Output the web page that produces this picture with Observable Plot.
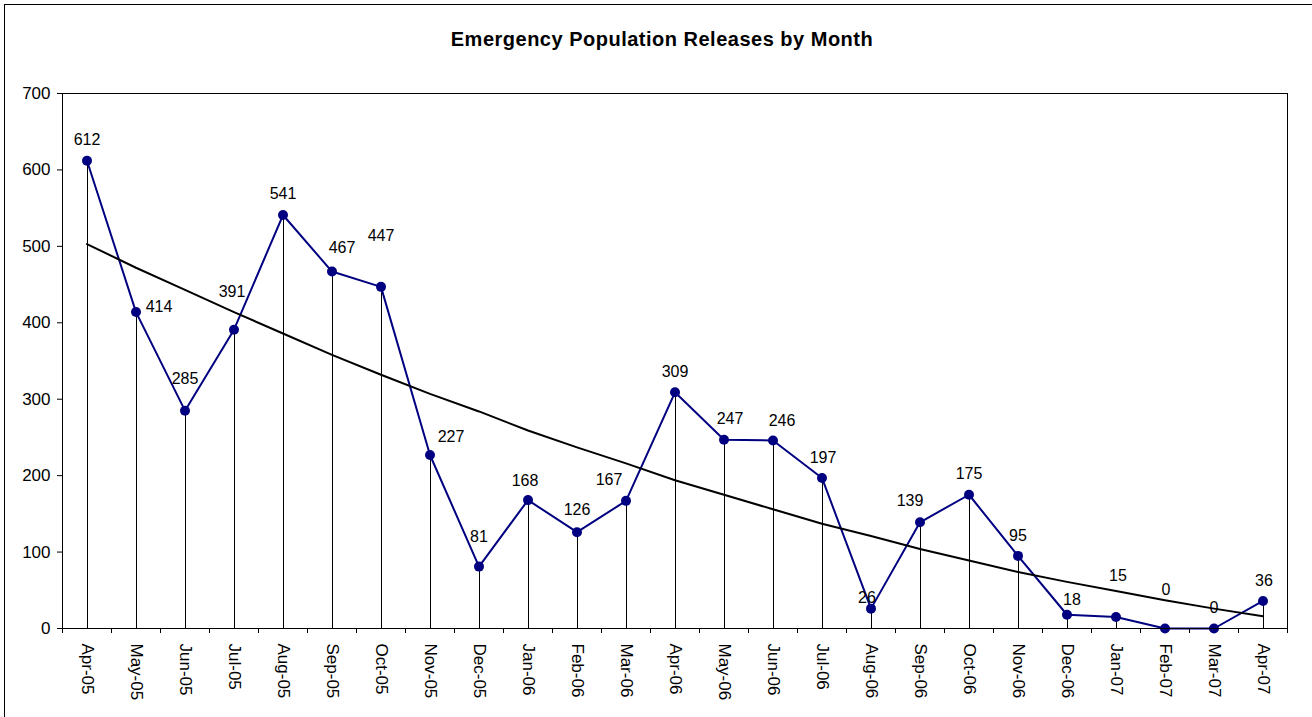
<!DOCTYPE html>
<html>
<head>
<meta charset="utf-8">
<script src="https://cdn.jsdelivr.net/npm/d3@7"></script>
<script src="https://cdn.jsdelivr.net/npm/@observablehq/plot@0.6"></script>
<style>
  html, body { margin: 0; padding: 0; overflow: hidden; background: #fff; width: 1312px; height: 717px; }
  #border { position: absolute; left: 4px; top: 4px; width: 1330px; height: 740px; border: 1px solid #000; box-sizing: border-box; }
  #title { position: absolute; left: 662px; top: 29px; transform: translateX(-50%); white-space: nowrap;
           font: bold 20px "Liberation Sans", Arial, sans-serif; line-height: 20px; letter-spacing: 0.5px; color: #000; }
  #chart { position: absolute; left: 0; top: 0; }
  #chart svg { font-family: "Liberation Sans", Arial, sans-serif; }
</style>
</head>
<body>
<div id="border"></div>
<div id="chart"></div>
<div id="title">Emergency Population Releases by Month</div>
<script>
const months = ["Apr-05","May-05","Jun-05","Jul-05","Aug-05","Sep-05","Oct-05","Nov-05","Dec-05",
  "Jan-06","Feb-06","Mar-06","Apr-06","May-06","Jun-06","Jul-06","Aug-06","Sep-06","Oct-06","Nov-06","Dec-06",
  "Jan-07","Feb-07","Mar-07","Apr-07"];
const releases = [612,414,285,391,541,467,447,227,81,168,126,167,309,247,246,197,26,139,175,95,18,15,0,0,36];
const trend = [503,472,443,414,386,358,332,307,284,259,237,216,194,175,156,137,121,104,89,74,61,49,37,26,16];
const yTicks = [0,100,200,300,400,500,600,700];

// label nudges (pixel offsets from each point), kept apart from the data
const labelDx = [0,23,0,-2,0,10,0,21,0,-3,0,-17,0,6,9,1,-4,-10,0,0,5,2,1,0,1];
const labelDy = [-21,-5,-32,-38,-21,-24,-51,-18,-30,-19,-22,-21,-20,-21,-20,-20,-11,-21,-21,-20,-15,-41,-39,-21,-20];

const data = months.map((m, i) => ({i, month: m, value: releases[i], trend: trend[i]}));
const boundaries = d3.range(months.length + 1).map(k => k - 0.5);

const labelMarks = data.map(d => Plot.text([d], {
  x: "i", y: "value", text: d => String(d.value),
  dx: labelDx[d.i], dy: labelDy[d.i],
  fontSize: 16, fill: "#000", style: "letter-spacing:0.5px"
}));

const chart = Plot.plot({
  width: 1312,
  height: 717,
  marginLeft: 62,
  marginRight: 25,
  marginTop: 93,
  marginBottom: 89,
  style: {background: "transparent", fontFamily: "Liberation Sans, Arial, sans-serif"},
  x: {type: "linear", domain: [-0.5, months.length - 0.5]},
  y: {domain: [0, 700]},
  marks: [
    Plot.ruleX(data, {x: "i", y1: 0, y2: "value", stroke: "#000", strokeWidth: 1, shapeRendering: "crispEdges"}),
    Plot.line(data, {x: "i", y: "value", stroke: "#000080", strokeWidth: 2}),
    Plot.line(data, {x: "i", y: "trend", stroke: "#000", strokeWidth: 2}),
    Plot.dot(data, {x: "i", y: "value", r: 5, fill: "#000080", stroke: "none"}),
    ...labelMarks,
    Plot.frame({stroke: "#000", strokeWidth: 1}),
    Plot.axisY({ticks: yTicks, tickSize: 5, tickPadding: 7, fontSize: 17, label: null,
      tickFormat: d => String(d), style: "letter-spacing:0.8px"}),
    Plot.axisX({ticks: d3.range(months.length), tickSize: 0, tickPadding: 15, tickRotate: 90,
      fontSize: 17, label: null, tickFormat: i => months[i], style: "letter-spacing:0.3px"}),
    Plot.axisX({ticks: boundaries, tickSize: 5, label: null, tickFormat: () => ""})
  ]
});
document.getElementById("chart").appendChild(chart);
</script>
</body>
</html>
